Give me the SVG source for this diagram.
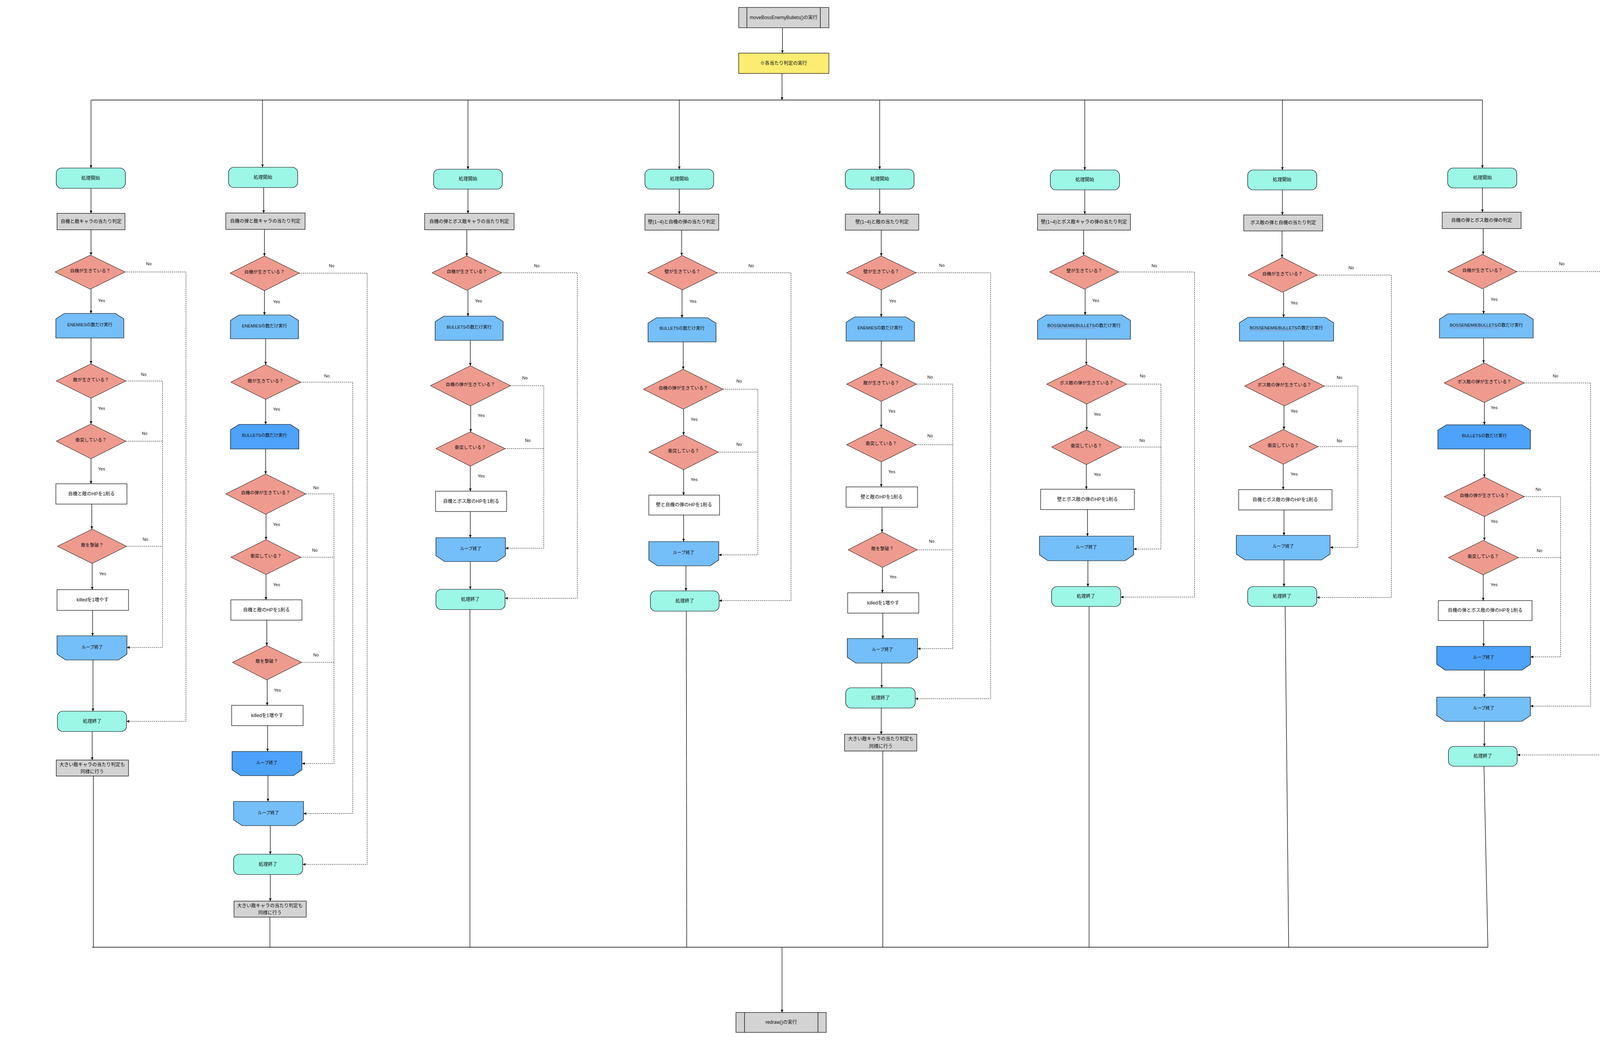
<svg xmlns="http://www.w3.org/2000/svg" width="4310" height="2664" viewBox="0 0 4310 2664">
<defs>
<style>
.t{font-family:"Liberation Sans","Noto Sans CJK JP",sans-serif;font-size:12px;fill:#111;text-anchor:middle;dominant-baseline:central}
.t.lp{font-size:11px}
.t.dt{font-size:11.5px}
.s{font-family:"Liberation Sans","Noto Sans CJK JP",sans-serif;font-size:11px;fill:#111;text-anchor:middle;dominant-baseline:central}
.term{fill:#9CF7E7;stroke:#000;stroke-width:1.2}
.grey{fill:#D3D3D3;stroke:#000;stroke-width:1.2}
.proc{fill:#FFFFFF;stroke:#000;stroke-width:1.2}
.yel{fill:#FBEC72;stroke:#000;stroke-width:1.2}
.dec{fill:#EF9A8F;stroke:#000;stroke-width:1}
.loop{fill:#74BEF9;stroke:#000;stroke-width:1.2}
.loopd{fill:#4DA2F9;stroke:#000;stroke-width:1.2}
.ln{fill:none;stroke:#000;stroke-width:1.3}
.dl{fill:none;stroke:#000;stroke-width:1;stroke-dasharray:3 2}
.sq{fill:none;stroke:#E03030;stroke-width:1;stroke-dasharray:1.5 1.5}
</style>
<marker id="ah" markerUnits="userSpaceOnUse" markerWidth="8" markerHeight="8" refX="7" refY="4" orient="auto">
<path d="M0,0.8 L7,4 L0,7.2 z" fill="#000"/>
</marker>
</defs>
<rect width="4310" height="2664" fill="#FFFFFF"/>

<g id="connectors">
<path class="ln" d="M2003,71 V136" marker-end="url(#ah)"/>
<path class="ln" d="M2002,188 V256" marker-end="url(#ah)"/>
<path class="ln" d="M234,256 H3795"/>
<path class="ln" d="M236,2424 H3809"/>
<path class="ln" d="M2002,2424 V2591" marker-end="url(#ah)"/>

<path class="ln" d="M233,256 V430" marker-end="url(#ah)"/>
<path class="ln" d="M233,482 V546" marker-end="url(#ah)"/>
<path class="ln" d="M233,588 V653" marker-end="url(#ah)"/>
<path class="ln" d="M233,740 V802" marker-end="url(#ah)"/>
<path class="ln" d="M233,865 V931" marker-end="url(#ah)"/>
<path class="ln" d="M233,1019 V1085" marker-end="url(#ah)"/>
<path class="ln" d="M233,1174 V1238" marker-end="url(#ah)"/>
<path class="ln" d="M235,1290 V1354" marker-end="url(#ah)"/>
<path class="ln" d="M236,1442 V1509" marker-end="url(#ah)"/>
<path class="ln" d="M237,1562 V1627" marker-end="url(#ah)"/>
<path class="ln" d="M238,1689 V1820" marker-end="url(#ah)"/>
<path class="ln" d="M236,1872 V1945" marker-end="url(#ah)"/>
<path class="ln" d="M239,1986 V2424"/>
<path class="dl" d="M320,696 H476 V1846 H324" marker-end="url(#ah)"/>
<path class="dl" d="M322,975 H416 V1657 H325" marker-end="url(#ah)"/>
<path class="dl" d="M322,1129 H416"/>
<path class="dl" d="M324,1398 H416"/>

<path class="ln" d="M672,256 V428" marker-end="url(#ah)"/>
<path class="ln" d="M675,480 V545" marker-end="url(#ah)"/>
<path class="ln" d="M677,587 V655" marker-end="url(#ah)"/>
<path class="ln" d="M677,744 V806" marker-end="url(#ah)"/>
<path class="ln" d="M680,867 V933" marker-end="url(#ah)"/>
<path class="ln" d="M680,1022 V1086" marker-end="url(#ah)"/>
<path class="ln" d="M680,1149 V1213" marker-end="url(#ah)"/>
<path class="ln" d="M681,1316 V1381" marker-end="url(#ah)"/>
<path class="ln" d="M681,1470 V1535" marker-end="url(#ah)"/>
<path class="ln" d="M683,1587 V1652" marker-end="url(#ah)"/>
<path class="ln" d="M684,1740 V1805" marker-end="url(#ah)"/>
<path class="ln" d="M685,1857 V1923" marker-end="url(#ah)"/>
<path class="ln" d="M686,1985 V2051" marker-end="url(#ah)"/>
<path class="ln" d="M692,2113 V2186" marker-end="url(#ah)"/>
<path class="ln" d="M692,2238 V2306" marker-end="url(#ah)"/>
<path class="ln" d="M691,2347 V2424"/>
<path class="dl" d="M766,699 H940 V2212 H775" marker-end="url(#ah)"/>
<path class="dl" d="M770,978 H903 V2082 H777" marker-end="url(#ah)"/>
<path class="dl" d="M783,1264 H855 V1954 H773" marker-end="url(#ah)"/>
<path class="dl" d="M770,1426 H855"/>
<path class="dl" d="M772,1695 H855"/>

<path class="ln" d="M1198,256 V433" marker-end="url(#ah)"/>
<path class="ln" d="M1198,484 V546" marker-end="url(#ah)"/>
<path class="ln" d="M1195,588 V655" marker-end="url(#ah)"/>
<path class="ln" d="M1198,743 V809" marker-end="url(#ah)"/>
<path class="ln" d="M1204,871 V936" marker-end="url(#ah)"/>
<path class="ln" d="M1205,1039 V1105" marker-end="url(#ah)"/>
<path class="ln" d="M1204,1193 V1257" marker-end="url(#ah)"/>
<path class="ln" d="M1204,1309 V1376" marker-end="url(#ah)"/>
<path class="ln" d="M1204,1437 V1508" marker-end="url(#ah)"/>
<path class="ln" d="M1203,1560 V2424"/>
<path class="dl" d="M1284,698 H1478 V1531 H1293" marker-end="url(#ah)"/>
<path class="dl" d="M1307,987 H1392 V1403 H1294" marker-end="url(#ah)"/>
<path class="dl" d="M1293,1148 H1392"/>

<path class="ln" d="M1739,256 V433" marker-end="url(#ah)"/>
<path class="ln" d="M1739,484 V548" marker-end="url(#ah)"/>
<path class="ln" d="M1745,589 V654" marker-end="url(#ah)"/>
<path class="ln" d="M1746,742 V813" marker-end="url(#ah)"/>
<path class="ln" d="M1749,875 V945" marker-end="url(#ah)"/>
<path class="ln" d="M1750,1047 V1113" marker-end="url(#ah)"/>
<path class="ln" d="M1750,1202 V1267" marker-end="url(#ah)"/>
<path class="ln" d="M1750,1318 V1386" marker-end="url(#ah)"/>
<path class="ln" d="M1756,1448 V1512" marker-end="url(#ah)"/>
<path class="ln" d="M1757,1564 L1758,2424"/>
<path class="dl" d="M1836,698 H2025 V1537 H1841" marker-end="url(#ah)"/>
<path class="dl" d="M1851,996 H1940 V1420 H1840" marker-end="url(#ah)"/>
<path class="dl" d="M1839,1157 H1940"/>

<path class="ln" d="M2252,256 V433" marker-end="url(#ah)"/>
<path class="ln" d="M2252,484 V548" marker-end="url(#ah)"/>
<path class="ln" d="M2256,589 V655" marker-end="url(#ah)"/>
<path class="ln" d="M2256,742 V811" marker-end="url(#ah)"/>
<path class="ln" d="M2256,873 V939" marker-end="url(#ah)"/>
<path class="ln" d="M2256,1027 V1094" marker-end="url(#ah)"/>
<path class="ln" d="M2256,1182 V1246" marker-end="url(#ah)"/>
<path class="ln" d="M2258,1298 V1362" marker-end="url(#ah)"/>
<path class="ln" d="M2259,1452 V1517" marker-end="url(#ah)"/>
<path class="ln" d="M2260,1569 V1634" marker-end="url(#ah)"/>
<path class="ln" d="M2257,1697 V1760" marker-end="url(#ah)"/>
<path class="ln" d="M2256,1812 V1879" marker-end="url(#ah)"/>
<path class="ln" d="M2260,1922 V2424"/>
<path class="dl" d="M2345,698 H2536 V1788 H2343" marker-end="url(#ah)"/>
<path class="dl" d="M2346,983 H2439 V1660 H2349" marker-end="url(#ah)"/>
<path class="dl" d="M2345,1138 H2439"/>
<path class="dl" d="M2348,1407 H2439"/>

<path class="ln" d="M2777,256 V435" marker-end="url(#ah)"/>
<path class="ln" d="M2777,486 V548" marker-end="url(#ah)"/>
<path class="ln" d="M2774,589 V653" marker-end="url(#ah)"/>
<path class="ln" d="M2778,740 V806" marker-end="url(#ah)"/>
<path class="ln" d="M2781,868 V933" marker-end="url(#ah)"/>
<path class="ln" d="M2782,1034 V1100" marker-end="url(#ah)"/>
<path class="ln" d="M2781,1189 V1252" marker-end="url(#ah)"/>
<path class="ln" d="M2784,1304 V1372" marker-end="url(#ah)"/>
<path class="ln" d="M2785,1435 V1501" marker-end="url(#ah)"/>
<path class="ln" d="M2788,1552 V2424"/>
<path class="dl" d="M2864,696 H3058 V1528 H2869" marker-end="url(#ah)"/>
<path class="dl" d="M2884,983 H2972 V1405 H2902" marker-end="url(#ah)"/>
<path class="dl" d="M2870,1144 H2972"/>

<path class="ln" d="M3283,256 V435" marker-end="url(#ah)"/>
<path class="ln" d="M3283,486 V550" marker-end="url(#ah)"/>
<path class="ln" d="M3282,591 V659" marker-end="url(#ah)"/>
<path class="ln" d="M3286,748 V812" marker-end="url(#ah)"/>
<path class="ln" d="M3286,873 V937" marker-end="url(#ah)"/>
<path class="ln" d="M3287,1039 V1099" marker-end="url(#ah)"/>
<path class="ln" d="M3285,1188 V1253" marker-end="url(#ah)"/>
<path class="ln" d="M3287,1305 V1370" marker-end="url(#ah)"/>
<path class="ln" d="M3287,1433 V1501" marker-end="url(#ah)"/>
<path class="ln" d="M3290,1552 L3299,2424"/>
<path class="dl" d="M3372,704 H3562 V1529 H3371" marker-end="url(#ah)"/>
<path class="dl" d="M3390,988 H3476 V1401 H3405" marker-end="url(#ah)"/>
<path class="dl" d="M3374,1143 H3476"/>

<path class="ln" d="M3795,256 V430" marker-end="url(#ah)"/>
<path class="ln" d="M3795,481 V543" marker-end="url(#ah)"/>
<path class="ln" d="M3797,585 V651" marker-end="url(#ah)"/>
<path class="ln" d="M3798,739 V803" marker-end="url(#ah)"/>
<path class="ln" d="M3798,865 V929" marker-end="url(#ah)"/>
<path class="ln" d="M3800,1030 V1087" marker-end="url(#ah)"/>
<path class="ln" d="M3800,1149 V1221" marker-end="url(#ah)"/>
<path class="ln" d="M3800,1322 V1383" marker-end="url(#ah)"/>
<path class="ln" d="M3797,1471 V1537" marker-end="url(#ah)"/>
<path class="ln" d="M3798,1588 V1654" marker-end="url(#ah)"/>
<path class="ln" d="M3800,1715 V1784" marker-end="url(#ah)"/>
<path class="ln" d="M3800,1846 V1910" marker-end="url(#ah)"/>
<path class="ln" d="M3799,1961 L3809,2424"/>
<path class="dl" d="M3883,695 H4150 V1932 H3884" marker-end="url(#ah)"/>
<path class="dl" d="M3902,980 H4072 V1807 H3918" marker-end="url(#ah)"/>
<path class="dl" d="M3902,1271 H3995 V1681 H3918" marker-end="url(#ah)"/>
<path class="dl" d="M3887,1427 H3995"/>

<text class="s" x="381" y="675">No</text><text class="s" x="260" y="769">Yes</text>
<text class="s" x="368" y="958">No</text><text class="s" x="260" y="1045">Yes</text>
<text class="s" x="370" y="1109">No</text><text class="s" x="260" y="1200">Yes</text>
<text class="s" x="372" y="1380">No</text><text class="s" x="263" y="1468">Yes</text>

<text class="s" x="849" y="680">No</text><text class="s" x="708" y="772">Yes</text>
<text class="s" x="837" y="962">No</text><text class="s" x="708" y="1047">Yes</text>
<text class="s" x="809" y="1248">No</text><text class="s" x="708" y="1342">Yes</text>
<text class="s" x="806" y="1408">No</text><text class="s" x="708" y="1496">Yes</text>
<text class="s" x="809" y="1676">No</text><text class="s" x="710" y="1766">Yes</text>

<text class="s" x="1374" y="680">No</text><text class="s" x="1225" y="770">Yes</text>
<text class="s" x="1344" y="967">No</text><text class="s" x="1232" y="1063">Yes</text>
<text class="s" x="1351" y="1127">No</text><text class="s" x="1232" y="1218">Yes</text>

<text class="s" x="1923" y="680">No</text><text class="s" x="1774" y="771">Yes</text>
<text class="s" x="1892" y="975">No</text><text class="s" x="1777" y="1073">Yes</text>
<text class="s" x="1892" y="1137">No</text><text class="s" x="1777" y="1227">Yes</text>

<text class="s" x="2411" y="679">No</text><text class="s" x="2285" y="770">Yes</text>
<text class="s" x="2381" y="965">No</text><text class="s" x="2283" y="1052">Yes</text>
<text class="s" x="2381" y="1115">No</text><text class="s" x="2283" y="1207">Yes</text>
<text class="s" x="2385" y="1385">No</text><text class="s" x="2286" y="1476">Yes</text>

<text class="s" x="2955" y="680">No</text><text class="s" x="2805" y="769">Yes</text>
<text class="s" x="2925" y="962">No</text><text class="s" x="2809" y="1060">Yes</text>
<text class="s" x="2924" y="1127">No</text><text class="s" x="2809" y="1214">Yes</text>

<text class="s" x="3459" y="685">No</text><text class="s" x="3313" y="775">Yes</text>
<text class="s" x="3429" y="966">No</text><text class="s" x="3313" y="1052">Yes</text>
<text class="s" x="3429" y="1128">No</text><text class="s" x="3313" y="1213">Yes</text>

<text class="s" x="3998" y="675">No</text><text class="s" x="3825" y="766">Yes</text>
<text class="s" x="3982" y="962">No</text><text class="s" x="3825" y="1043">Yes</text>
<text class="s" x="3938" y="1252">No</text><text class="s" x="3825" y="1334">Yes</text>
<text class="s" x="3941" y="1409">No</text><text class="s" x="3825" y="1496">Yes</text>
</g>

<g id="n-move">
<rect class="grey" x="1891" y="19" width="231" height="52"/>
<path class="ln" d="M1912,19 V71 M2100,19 V71"/>
<text class="t" x="2006" y="45">moveBossEnemyBullets()の実行</text>
</g>
<g id="n-all">
<rect class="yel" x="1891" y="136" width="231" height="52"/>
<text class="t" x="2006" y="162">※各当たり判定の実行</text>
</g>
<g id="n-redraw">
<rect class="grey" x="1884" y="2591" width="231" height="51"/>
<path class="ln" d="M1906,2591 V2642 M2094,2591 V2642"/>
<text class="t" x="2000" y="2616">redraw()の実行</text>
</g>

<g id="c1-start"><rect class="term" x="144" y="430" width="177" height="52" rx="14"/><text class="t" x="232" y="456">処理開始</text></g>
<g id="c1-judge"><rect class="grey" x="146" y="546" width="174" height="42"/><text class="t" x="233" y="567">自機と敵キャラの当たり判定</text></g>
<g id="c1-d1"><polygon class="dec" points="231,653 320,696 231,740 141,696"/><text class="t dt" x="231" y="693">自機が生きている？</text></g>
<g id="c1-loop1"><polygon class="loop" points="143,865 143,816 165,802 295,802 317,816 317,865"/><text class="t lp" x="230" y="831">ENEMIESの数だけ実行</text></g>
<g id="c1-d2"><polygon class="dec" points="233,931 322,975 233,1019 144,975"/><text class="t dt" x="233" y="972">敵が生きている？</text></g>
<g id="c1-d3"><polygon class="dec" points="233,1085 322,1129 233,1174 144,1129"/><text class="t dt" x="233" y="1126">衝突している？</text></g>
<g id="c1-hp"><rect class="proc" x="143" y="1238" width="182" height="52"/><text class="t" x="234" y="1264">自機と敵のHPを1削る</text></g>
<g id="c1-d4"><polygon class="dec" points="236,1354 324,1398 236,1442 147,1398"/><text class="t dt" x="236" y="1395">敵を撃破？</text></g>
<g id="c1-killed"><rect class="proc" x="146" y="1509" width="183" height="53"/><text class="t" x="237" y="1535">killedを1増やす</text></g>
<g id="c1-loopend"><polygon class="loop" points="146,1627 325,1627 325,1674 303,1689 168,1689 146,1674"/><text class="t lp" x="236" y="1656">ループ終了</text></g>
<g id="c1-end"><rect class="term" x="147" y="1820" width="177" height="52" rx="14"/><text class="t" x="236" y="1846">処理終了</text></g>
<g id="c1-big"><rect class="grey" x="144" y="1945" width="185" height="41"/><text class="t" x="236" y="1957">大きい敵キャラの当たり判定も</text><text class="t" x="236" y="1975">同様に行う</text></g>

<g id="c2-start"><rect class="term" x="585" y="428" width="177" height="52" rx="14"/><text class="t" x="673" y="454">処理開始</text></g>
<g id="c2-judge"><rect class="grey" x="578" y="545" width="203" height="42"/><text class="t" x="679" y="566">自機の弾と敵キャラの当たり判定</text></g>
<g id="c2-d1"><polygon class="dec" points="677,655 766,699 677,744 589,699"/><text class="t dt" x="677" y="696">自機が生きている？</text></g>
<g id="c2-loop1"><polygon class="loop" points="590,867 590,820 612,806 742,806 764,820 764,867"/><text class="t lp" x="677" y="834">ENEMIESの数だけ実行</text></g>
<g id="c2-d2"><polygon class="dec" points="680,933 770,978 680,1022 591,978"/><text class="t dt" x="680" y="975">敵が生きている？</text></g>
<g id="c2-loop2"><polygon class="loopd" points="590,1149 590,1100 612,1086 743,1086 765,1100 765,1149"/><text class="t lp" x="677" y="1114">BULLETSの数だけ実行</text></g>
<g id="c2-d3"><polygon class="dec" points="680,1213 783,1264 680,1316 578,1264"/><text class="t dt" x="680" y="1261">自機の弾が生きている？</text></g>
<g id="c2-d4"><polygon class="dec" points="681,1381 770,1426 681,1470 591,1426"/><text class="t dt" x="681" y="1423">衝突している？</text></g>
<g id="c2-hp"><rect class="proc" x="591" y="1535" width="182" height="52"/><text class="t" x="682" y="1561">自機と敵のHPを1削る</text></g>
<g id="c2-d5"><polygon class="dec" points="683,1652 772,1695 683,1740 595,1695"/><text class="t dt" x="683" y="1692">敵を撃破？</text></g>
<g id="c2-killed"><rect class="proc" x="593" y="1805" width="183" height="52"/><text class="t" x="684" y="1831">killedを1増やす</text></g>
<g id="c2-loopend2"><polygon class="loopd" points="594,1923 773,1923 773,1970 751,1985 616,1985 594,1970"/><text class="t lp" x="683" y="1952">ループ終了</text></g>
<g id="c2-loopend1"><polygon class="loop" points="598,2051 777,2051 777,2098 755,2113 620,2113 598,2098"/><text class="t lp" x="687" y="2080">ループ終了</text></g>
<g id="c2-end"><rect class="term" x="598" y="2186" width="177" height="52" rx="14"/><text class="t" x="686" y="2212">処理終了</text></g>
<g id="c2-big"><rect class="grey" x="599" y="2306" width="185" height="41"/><text class="t" x="691" y="2318">大きい敵キャラの当たり判定も</text><text class="t" x="691" y="2336">同様に行う</text></g>

<g id="c3-start"><rect class="term" x="1110" y="433" width="176" height="51" rx="14"/><text class="t" x="1198" y="458">処理開始</text></g>
<g id="c3-judge"><rect class="grey" x="1087" y="546" width="229" height="42"/><text class="t" x="1201" y="567">自機の弾とボス敵キャラの当たり判定</text></g>
<g id="c3-d1"><polygon class="dec" points="1195,655 1284,698 1195,743 1106,698"/><text class="t dt" x="1195" y="695">自機が生きている？</text></g>
<g id="c3-loop1"><polygon class="loop" points="1114,871 1114,823 1136,809 1266,809 1288,823 1288,871"/><text class="t lp" x="1201" y="837">BULLETSの数だけ実行</text></g>
<g id="c3-d2"><polygon class="dec" points="1204,936 1307,987 1204,1039 1102,987"/><text class="t dt" x="1204" y="984">自機の弾が生きている？</text></g>
<g id="c3-d3"><polygon class="dec" points="1204,1105 1293,1148 1204,1193 1116,1148"/><text class="t dt" x="1204" y="1145">衝突している？</text></g>
<g id="c3-hp"><rect class="proc" x="1115" y="1257" width="182" height="52"/><text class="t" x="1206" y="1283">自機とボス敵のHPを1削る</text></g>
<g id="c3-loopend"><polygon class="loop" points="1116,1376 1294,1376 1294,1422 1272,1437 1138,1437 1116,1422"/><text class="t lp" x="1205" y="1404">ループ終了</text></g>
<g id="c3-end"><rect class="term" x="1116" y="1508" width="177" height="52" rx="14"/><text class="t" x="1204" y="1534">処理終了</text></g>

<g id="c4-start"><rect class="term" x="1651" y="433" width="176" height="51" rx="14"/><text class="t" x="1739" y="458">処理開始</text></g>
<g id="c4-judge"><rect class="grey" x="1651" y="548" width="189" height="41"/><text class="t" x="1745" y="568">壁(1~4)と自機の弾の当たり判定</text></g>
<g id="c4-d1"><polygon class="dec" points="1747,654 1836,698 1747,742 1658,698"/><text class="t dt" x="1747" y="695">壁が生きている？</text></g>
<g id="c4-loop1"><polygon class="loop" points="1659,875 1659,827 1681,813 1811,813 1833,827 1833,875"/><text class="t lp" x="1746" y="840">BULLETSの数だけ実行</text></g>
<g id="c4-d2"><polygon class="dec" points="1749,945 1851,996 1749,1047 1647,996"/><text class="t dt" x="1749" y="993">自機の弾が生きている？</text></g>
<g id="c4-d3"><polygon class="dec" points="1750,1113 1839,1157 1750,1202 1661,1157"/><text class="t dt" x="1750" y="1154">衝突している？</text></g>
<g id="c4-hp"><rect class="proc" x="1661" y="1267" width="181" height="51"/><text class="t" x="1751" y="1292">壁と自機の弾のHPを1削る</text></g>
<g id="c4-loopend"><polygon class="loop" points="1661,1386 1840,1386 1840,1433 1818,1448 1683,1448 1661,1433"/><text class="t lp" x="1750" y="1414">ループ終了</text></g>
<g id="c4-end"><rect class="term" x="1665" y="1512" width="176" height="52" rx="14"/><text class="t" x="1753" y="1538">処理終了</text></g>

<g id="c5-start"><rect class="term" x="2164" y="433" width="176" height="51" rx="14"/><text class="t" x="2252" y="458">処理開始</text></g>
<g id="c5-judge"><rect class="grey" x="2164" y="548" width="188" height="41"/><text class="t" x="2258" y="568">壁(1~4)と敵の当たり判定</text></g>
<g id="c5-d1"><polygon class="dec" points="2256,655 2345,698 2256,742 2167,698"/><text class="t dt" x="2256" y="695">壁が生きている？</text></g>
<g id="c5-loop1"><polygon class="loop" points="2166,873 2166,825 2188,811 2319,811 2341,825 2341,873"/><text class="t lp" x="2253" y="839">ENEMIESの数だけ実行</text></g>
<g id="c5-d2"><polygon class="dec" points="2256,939 2346,983 2256,1027 2167,983"/><text class="t dt" x="2256" y="980">敵が生きている？</text></g>
<g id="c5-d3"><polygon class="dec" points="2256,1094 2345,1138 2256,1182 2167,1138"/><text class="t dt" x="2256" y="1135">衝突している？</text></g>
<g id="c5-hp"><rect class="proc" x="2166" y="1246" width="183" height="52"/><text class="t" x="2257" y="1272">壁と敵のHPを1削る</text></g>
<g id="c5-d4"><polygon class="dec" points="2259,1362 2348,1407 2259,1452 2171,1407"/><text class="t dt" x="2259" y="1404">敵を撃破？</text></g>
<g id="c5-killed"><rect class="proc" x="2170" y="1517" width="182" height="52"/><text class="t" x="2261" y="1543">killedを1増やす</text></g>
<g id="c5-loopend"><polygon class="loop" points="2169,1634 2349,1634 2349,1682 2327,1697 2191,1697 2169,1682"/><text class="t lp" x="2259" y="1662">ループ終了</text></g>
<g id="c5-end"><rect class="term" x="2165" y="1760" width="178" height="52" rx="14"/><text class="t" x="2254" y="1786">処理終了</text></g>
<g id="c5-big"><rect class="grey" x="2162" y="1879" width="185" height="43"/><text class="t" x="2255" y="1891">大きい敵キャラの当たり判定も</text><text class="t" x="2255" y="1910">同様に行う</text></g>

<g id="c6-start"><rect class="term" x="2689" y="435" width="177" height="51" rx="14"/><text class="t" x="2777" y="460">処理開始</text></g>
<g id="c6-judge"><rect class="grey" x="2656" y="548" width="238" height="41"/><text class="t" x="2775" y="568">壁(1~4)とボス敵キャラの弾の当たり判定</text></g>
<g id="c6-d1"><polygon class="dec" points="2776,653 2864,696 2776,740 2687,696"/><text class="t dt" x="2776" y="693">壁が生きている？</text></g>
<g id="c6-loop1"><polygon class="loop" points="2656,868 2656,820 2678,806 2872,806 2894,820 2894,868"/><text class="t lp" x="2775" y="833">BOSSENEMIEBULLETSの数だけ実行</text><path class="sq" d="M2684,840 H2806"/></g>
<g id="c6-d2"><polygon class="dec" points="2782,933 2884,983 2782,1034 2679,983"/><text class="t dt" x="2782" y="980">ボス敵の弾が生きている？</text></g>
<g id="c6-d3"><polygon class="dec" points="2781,1100 2870,1144 2781,1189 2692,1144"/><text class="t dt" x="2781" y="1141">衝突している？</text></g>
<g id="c6-hp"><rect class="proc" x="2664" y="1252" width="240" height="52"/><text class="t" x="2784" y="1278">壁とボス敵の弾のHPを1削る</text></g>
<g id="c6-loopend"><polygon class="loop" points="2661,1372 2902,1372 2902,1420 2880,1435 2683,1435 2661,1420"/><text class="t lp" x="2781" y="1400">ループ終了</text></g>
<g id="c6-end"><rect class="term" x="2692" y="1501" width="177" height="51" rx="14"/><text class="t" x="2780" y="1526">処理終了</text></g>

<g id="c7-start"><rect class="term" x="3194" y="435" width="177" height="51" rx="14"/><text class="t" x="3282" y="460">処理開始</text></g>
<g id="c7-judge"><rect class="grey" x="3184" y="550" width="202" height="41"/><text class="t" x="3285" y="570">ボス敵の弾と自機の当たり判定</text></g>
<g id="c7-d1"><polygon class="dec" points="3283,659 3372,704 3283,748 3195,704"/><text class="t dt" x="3283" y="701">自機が生きている？</text></g>
<g id="c7-loop1"><polygon class="loop" points="3173,873 3173,826 3195,812 3392,812 3414,826 3414,873"/><text class="t lp" x="3293" y="839">BOSSENEMIEBULLETSの数だけ実行</text><path class="sq" d="M3202,846 H3324"/></g>
<g id="c7-d2"><polygon class="dec" points="3288,937 3390,988 3288,1039 3186,988"/><text class="t dt" x="3288" y="985">ボス敵の弾が生きている？</text></g>
<g id="c7-d3"><polygon class="dec" points="3285,1099 3374,1143 3285,1188 3197,1143"/><text class="t dt" x="3285" y="1140">衝突している？</text></g>
<g id="c7-hp"><rect class="proc" x="3171" y="1253" width="239" height="52"/><text class="t" x="3290" y="1279">自機とボス敵の弾のHPを1削る</text></g>
<g id="c7-loopend"><polygon class="loop" points="3165,1370 3405,1370 3405,1418 3383,1433 3187,1433 3165,1418"/><text class="t lp" x="3285" y="1398">ループ終了</text></g>
<g id="c7-end"><rect class="term" x="3194" y="1501" width="177" height="51" rx="14"/><text class="t" x="3282" y="1526">処理終了</text></g>

<g id="c8-start"><rect class="term" x="3706" y="430" width="177" height="51" rx="14"/><text class="t" x="3795" y="455">処理開始</text></g>
<g id="c8-judge"><rect class="grey" x="3692" y="543" width="202" height="42"/><text class="t" x="3793" y="564">自機の弾とボス敵の弾の判定</text></g>
<g id="c8-d1"><polygon class="dec" points="3795,651 3883,695 3795,739 3706,695"/><text class="t dt" x="3795" y="692">自機が生きている？</text></g>
<g id="c8-loop1"><polygon class="loop" points="3685,865 3685,817 3707,803 3903,803 3925,817 3925,865"/><text class="t lp" x="3805" y="832">BOSSENEMIEBULLETSの数だけ実行</text><path class="sq" d="M3714,839 H3836"/></g>
<g id="c8-d2"><polygon class="dec" points="3800,929 3902,980 3800,1030 3697,980"/><text class="t dt" x="3800" y="977">ボス敵の弾が生きている？</text></g>
<g id="c8-loop2"><polygon class="loopd" points="3681,1149 3681,1101 3703,1087 3896,1087 3918,1101 3918,1149"/><text class="t lp" x="3800" y="1115">BULLETSの数だけ実行</text></g>
<g id="c8-d3"><polygon class="dec" points="3800,1221 3902,1271 3800,1322 3697,1271"/><text class="t dt" x="3800" y="1268">自機の弾が生きている？</text></g>
<g id="c8-d4"><polygon class="dec" points="3797,1383 3887,1427 3797,1471 3708,1427"/><text class="t dt" x="3797" y="1424">衝突している？</text></g>
<g id="c8-hp"><rect class="proc" x="3682" y="1537" width="240" height="51"/><text class="t" x="3802" y="1562">自機の弾とボス敵の弾のHPを1削る</text></g>
<g id="c8-loopend2"><polygon class="loopd" points="3678,1654 3918,1654 3918,1700 3896,1715 3700,1715 3678,1700"/><text class="t lp" x="3798" y="1682">ループ終了</text></g>
<g id="c8-loopend1"><polygon class="loop" points="3678,1784 3918,1784 3918,1831 3896,1846 3700,1846 3678,1831"/><text class="t lp" x="3798" y="1812">ループ終了</text></g>
<g id="c8-end"><rect class="term" x="3708" y="1910" width="176" height="51" rx="14"/><text class="t" x="3796" y="1935">処理終了</text></g>
</svg>
